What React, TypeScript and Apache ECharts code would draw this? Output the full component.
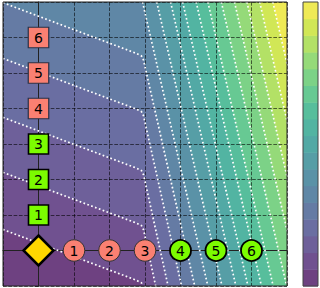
import React, { useEffect, useRef } from "react";
import * as echarts from "echarts";

// ---- data (data units) ----
const axisMin = -1;
const axisMax = 7;
const tickStep = 1;

// contours that enter from the left edge (lowest level first); each bends near x≈2.9 and runs down steeply
const contourLeft5 = [[-1, 0.59], [2.75, -0.835], [2.9, -0.91], [2.93, -1]];
const contourLeft4 = [[-1, 2.2], [2.75, 0.775], [2.9, 0.7], [2.96, 0.58], [3.3, -1]];
const contourLeft3 = [[-1, 3.75], [2.75, 2.325], [2.9, 2.25], [2.96, 2.13], [3.65, -1]];
const contourLeft2 = [[-1, 5.41], [2.75, 3.985], [2.9, 3.91], [2.96, 3.79], [4.03, -1]];
const contourLeft1 = [[-1, 6.98], [2.75, 5.555], [2.9, 5.48], [2.96, 5.36], [4.4, -1]];

// steep contours entering from the top: x at the top edge (y=7) and at y=-1
const steepTopX = [2.93, 3.33, 3.72, 4.06, 4.44, 4.77, 5.15, 5.52, 5.87, 6.23, 6.6];
const steepBottomX = [4.77, 5.17, 5.56, 5.9, 6.28, 6.61, 6.99, 7.36, 7.71, 8.07, 8.44];

const bandLevels = [0, 1, 2, 3, 4, 5, 6, 7, 8, 9, 10, 11, 12, 13, 14, 15, 16];

const diamondPoint = [[0, 0]];
const salmonCircles = [[1, 0, "1"], [2, 0, "2"], [3, 0, "3"]];
const greenCircles = [[4, 0, "4"], [5, 0, "5"], [6, 0, "6"]];
const greenSquares = [[0, 1, "1"], [0, 2, "2"], [0, 3, "3"]];
const salmonSquares = [[0, 4, "4"], [0, 5, "5"], [0, 6, "6"]];

// ---- styling helpers ----
const VIRIDIS = ["#440154", "#482475", "#414487", "#355f8d", "#2a788e", "#21918c", "#22a884", "#44bf70", "#7ad151", "#bddf26", "#fde725"];
function hex(h: string) {
  return [parseInt(h.slice(1, 3), 16), parseInt(h.slice(3, 5), 16), parseInt(h.slice(5, 7), 16)];
}
function viridis(t: number) {
  const s = Math.max(0, Math.min(1, t)) * 10;
  const i = Math.min(9, Math.floor(s));
  const f = s - i;
  const a = hex(VIRIDIS[i]);
  const b = hex(VIRIDIS[i + 1]);
  return a.map((v, j) => v + (b[j] - v) * f);
}
const ALPHA = 0.78;
function bandColor(k: number) {
  const c = viridis((k + 0.5) / bandLevels.length);
  const r = c.map((v) => Math.round(v * ALPHA + 255 * (1 - ALPHA)));
  return `rgb(${r[0]},${r[1]},${r[2]})`;
}

const leftContours = [contourLeft5, contourLeft4, contourLeft3, contourLeft2, contourLeft1];
const steepLines = steepTopX.map((t, i) => [[t, axisMax], [steepBottomX[i], axisMin]]);
const boundaries = [...leftContours, ...steepLines];

function superLevelPolygon(k: number): number[][] {
  if (k === 0) {
    return [[axisMin, axisMin], [axisMax, axisMin], [axisMax, axisMax], [axisMin, axisMax]];
  }
  const b = boundaries[k - 1];
  if (k <= leftContours.length) {
    return [...b, [axisMax, axisMin], [axisMax, axisMax], [axisMin, axisMax]];
  }
  return [...b, [12, axisMin], [12, axisMax]];
}

export default function App() {
  const ref = useRef<HTMLDivElement>(null);
  useEffect(() => {
    document.body.style.margin = "0";
    if (!ref.current) return;
    const chart = echarts.init(ref.current, null, { renderer: "svg" });
    const font = "DejaVu Sans";
    const label = {
      show: true,
      position: "inside",
      formatter: (p: any) => p.value[2],
      color: "#000",
      fontSize: 14,
      fontFamily: font,
    };
    const axisCommon = {
      type: "value",
      min: axisMin,
      max: axisMax,
      interval: tickStep,
      z: 1,
      axisLabel: { show: false },
      axisLine: { show: true, lineStyle: { color: "#222", width: 1 } },
      axisTick: { show: true, length: 3.5, lineStyle: { color: "#222", width: 1 } },
      splitLine: { show: true, lineStyle: { color: "#000", width: 0.9, type: [3.7, 1.6], opacity: 0.65 } },
    };
    chart.setOption({
      animation: false,
      grid: [
        { left: 3, top: 2, width: 284, height: 284, show: true, borderColor: "#222", borderWidth: 1, backgroundColor: "transparent", z: 4, outerBoundsMode: "none", containLabel: false },
        { left: 303, top: 2, width: 15, height: 284, show: true, borderColor: "#444", borderWidth: 1, backgroundColor: "transparent", z: 4, outerBoundsMode: "none", containLabel: false },
      ],
      xAxis: [
        { ...axisCommon, gridIndex: 0 },
        { type: "value", gridIndex: 1, min: 0, max: 1, show: false },
      ],
      yAxis: [
        { ...axisCommon, gridIndex: 0 },
        { type: "value", gridIndex: 1, min: 0, max: bandLevels.length, show: false },
      ],
      series: [
        {
          type: "custom",
          xAxisIndex: 0,
          yAxisIndex: 0,
          z: 0,
          clip: true,
          silent: true,
          data: bandLevels.map((k) => [k]),
          renderItem: (params: any, api: any) => {
            const k = api.value(0);
            const pts = superLevelPolygon(k).map((p) => api.coord(p));
            return { type: "polygon", shape: { points: pts }, style: { fill: bandColor(k) } };
          },
        },
        {
          type: "custom",
          xAxisIndex: 0,
          yAxisIndex: 0,
          z: 2,
          clip: true,
          silent: true,
          data: boundaries.map((_, i) => [i]),
          renderItem: (params: any, api: any) => {
            const i = api.value(0);
            const pts = boundaries[i].map((p) => api.coord(p));
            return {
              type: "polyline",
              shape: { points: pts },
              style: { fill: "none", stroke: "#ffffff", lineWidth: 1.7, lineDash: [1.7, 2.4], lineCap: "butt" },
            };
          },
        },
        {
          type: "custom",
          xAxisIndex: 1,
          yAxisIndex: 1,
          z: 0,
          silent: true,
          data: bandLevels.map((k) => [k]),
          renderItem: (params: any, api: any) => {
            const k = api.value(0);
            const p0 = api.coord([0, k + 1]);
            const p1 = api.coord([1, k]);
            return {
              type: "rect",
              shape: { x: p0[0], y: p0[1], width: p1[0] - p0[0], height: p1[1] - p0[1] + 0.5 },
              style: { fill: bandColor(k) },
            };
          },
        },
        {
          type: "scatter",
          z: 5,
          symbol: "diamond",
          symbolSize: 30,
          data: diamondPoint,
          itemStyle: { color: "#ffd700", borderColor: "#000", borderWidth: 2.5, opacity: 1 },
        },
        {
          type: "scatter",
          z: 5,
          symbol: "circle",
          symbolSize: 21.5,
          data: salmonCircles,
          itemStyle: { color: "#fa8072", borderColor: "#333", borderWidth: 1, opacity: 1 },
          label,
        },
        {
          type: "scatter",
          z: 5,
          symbol: "circle",
          symbolSize: 21,
          data: greenCircles,
          itemStyle: { color: "#7cfc00", borderColor: "#000", borderWidth: 1.8, opacity: 1 },
          label,
        },
        {
          type: "scatter",
          z: 5,
          symbol: "rect",
          symbolSize: 20,
          data: greenSquares,
          itemStyle: { color: "#7cfc00", borderColor: "#000", borderWidth: 1.6, opacity: 1 },
          label,
        },
        {
          type: "scatter",
          z: 5,
          symbol: "rect",
          symbolSize: 20.5,
          data: salmonSquares,
          itemStyle: { color: "#fa8072", borderColor: "#2b3145", borderWidth: 1.2, opacity: 1 },
          label,
        },
      ],
    });
    return () => chart.dispose();
  }, []);
  return <div ref={ref} style={{ width: 320, height: 288 }} />;
}
